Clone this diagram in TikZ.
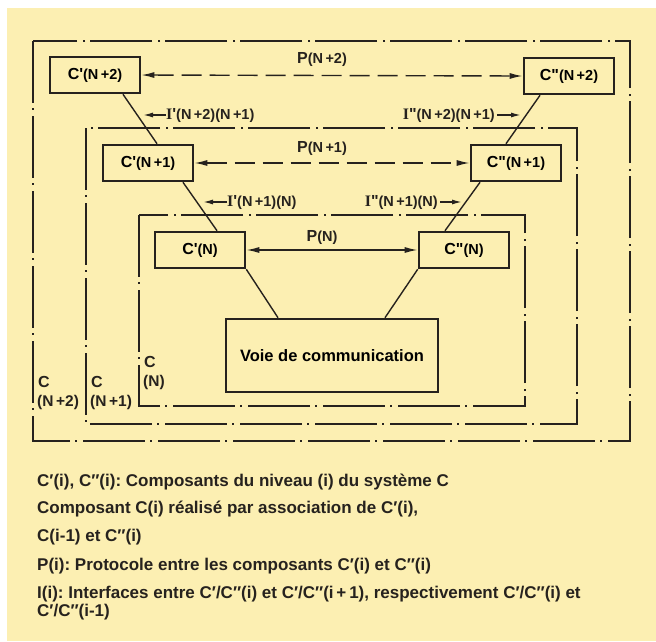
\documentclass[tikz,border=0pt]{standalone}
\usepackage{amsmath,amsfonts,graphicx}
\usepackage{xcolor}
\usepackage{fontspec}
\setmainfont{Liberation Sans}
\newfontfamily\romfont{Liberation Serif}
\usepackage{tikz}
\usetikzlibrary{arrows.meta}
\frenchspacing

\definecolor{paper}{RGB}{252,239,178}
\definecolor{ink}{RGB}{38,34,30}

\newcommand{\boxlab}[2]{{\fontsize{16}{18}\selectfont #1}{\fontsize{14.5}{16}\selectfont #2}}
\newcommand{\ilab}[2]{{\romfont\fontsize{16}{18}\selectfont I}{\fontsize{16}{18}\selectfont #1}{\fontsize{14.5}{16}\selectfont #2}}

\begin{document}
\begin{tikzpicture}[x=1pt,y=-1pt,
    comp/.style={draw=ink,line width=2.6pt,minimum width=90pt,minimum height=36pt,inner sep=0pt,font=\bfseries},
    frame/.style={draw=ink,line width=1.2pt,dash pattern=on 62pt off 5pt on 2pt off 6pt},
    link/.style={draw=ink,line width=1.4pt},
    proto/.style={link,{Latex[length=13pt,width=6pt]}-{Latex[length=13pt,width=6pt]}},
    iface/.style={link,-{Latex[length=10pt,width=5pt]}},
    lab/.style={inner sep=0pt,text=ink,font=\bfseries},
    legend/.style={inner sep=0pt,text=ink,anchor=west,font=\bfseries\fontsize{17}{19}\selectfont}]
    \useasboundingbox (0,0) rectangle (656,641);
    \fill[white] (0,0) rectangle (656,641);
    \fill[paper] (7,8) rectangle (656,641);

    % Systemes C(N+2), C(N+1), C(N)
    \draw[frame] (33,41) rectangle (630,441);
    \draw[frame] (86,128) rectangle (577,424);
    \draw[frame] (139,215) rectangle (525,406);
    \node[lab,anchor=west] (fc2) at (38,382) {\fontsize{16}{18}\selectfont C};
    \node[lab,anchor=west] (fn2) at (37,402) {\fontsize{15.5}{18}\selectfont (N\,+2)};
    \node[lab,anchor=west] (fc1) at (91,382) {\fontsize{16}{18}\selectfont C};
    \node[lab,anchor=west] (fn1) at (90,402) {\fontsize{15.5}{18}\selectfont (N\,+1)};
    \node[lab,anchor=west] (fc0) at (144,362) {\fontsize{16}{18}\selectfont C};
    \node[lab,anchor=west] (fn0) at (143,382) {\fontsize{15.5}{18}\selectfont (N)};

    % composants
    \node[comp] (cp2) at (95,75) {\boxlab{C\textquotesingle}{(N\,+2)}};
    \node[comp] (cs2) at (569,76) {\boxlab{C\textquotedbl}{(N\,+2)}};
    \node[comp] (cp1) at (148,163) {\boxlab{C\textquotesingle}{(N\,+1)}};
    \node[comp] (cs1) at (516,163) {\boxlab{C\textquotedbl}{(N\,+1)}};
    \node[comp] (cp0) at (200,250) {\boxlab{C\textquotesingle}{(N)}};
    \node[comp] (cs0) at (464,250) {\boxlab{C\textquotedbl}{(N)}};
    \node[comp,minimum width=212pt,minimum height=73pt,font=\bfseries\fontsize{16.5}{19}\selectfont] (voie) at (332,355.5) {Voie de communication};

    % liaisons entre niveaux
    \draw[link] ([xshift=28]cp2.south) to ([xshift=9]cp1.north);
    \draw[link] ([xshift=35]cp1.south) to ([xshift=17]cp0.north);
    \draw[link] (cp0.south east) to ([xshift=-54]voie.north);
    \draw[link] ([xshift=-29]cs2.south) to ([xshift=-10]cs1.north);
    \draw[link] ([xshift=-36]cs1.south) to ([xshift=-19]cs0.north);
    \draw[link] (cs0.south west) to ([xshift=53]voie.north);

    % protocoles
    \draw[proto,dash pattern=on 20pt off 8pt] (cp2.east) to (cs2.west);
    \draw[proto,dash pattern=on 20pt off 8pt] (cp1.east) to (cs1.west);
    \draw[proto] (cp0.east) to (cs0.west);
    \node[lab] (p2) at (322,59) {\boxlab{P}{(N\,+2)}};
    \node[lab] (p1) at (322,148) {\boxlab{P}{(N\,+1)}};
    \node[lab] (p0) at (322,237) {\boxlab{P}{(N)}};

    % interfaces
    \node[lab,anchor=west] (ip2) at (166,115) {\ilab{\textquotesingle}{(N\,+2)(N\,+1)}};
    \node[lab,anchor=west] (ip1) at (227,202) {\ilab{\textquotesingle}{(N\,+1)(N)}};
    \node[lab,anchor=east] (is2) at (495,115) {\ilab{\textquotedbl}{(N\,+2)(N\,+1)}};
    \node[lab,anchor=east] (is1) at (438,202) {\ilab{\textquotedbl}{(N\,+1)(N)}};
    \coordinate (ip2tip) at (143,115);
    \coordinate (ip1tip) at (203,202);
    \coordinate (is2tip) at (521,115);
    \coordinate (is1tip) at (462,202);
    \draw[iface] (ip2.west) to (ip2tip);
    \draw[iface] (ip1.west) to (ip1tip);
    \draw[iface] ([xshift=2]is2.east) to (is2tip);
    \draw[iface] ([xshift=2]is1.east) to (is1tip);

    % legende
    \node[legend] (leg1) at (37,482) {C′(i), C″(i): Composants du niveau (i) du système C};
    \node[legend] (leg2) at (37,509) {Composant C(i) réalisé par association de C′(i),};
    \node[legend] (leg3) at (37,537) {C(i-1) et C″(i)};
    \node[legend] (leg4) at (37,566) {P(i): Protocole entre les composants C′(i) et C″(i)};
    \node[legend] (leg5) at (37,594) {I(i): Interfaces entre C′/C″(i) et C′/C″(i\,+\,1), respectivement C′/C″(i) et};
    \node[legend] (leg6) at (37,612) {C′/C″(i-1)};
\end{tikzpicture}
\end{document}
